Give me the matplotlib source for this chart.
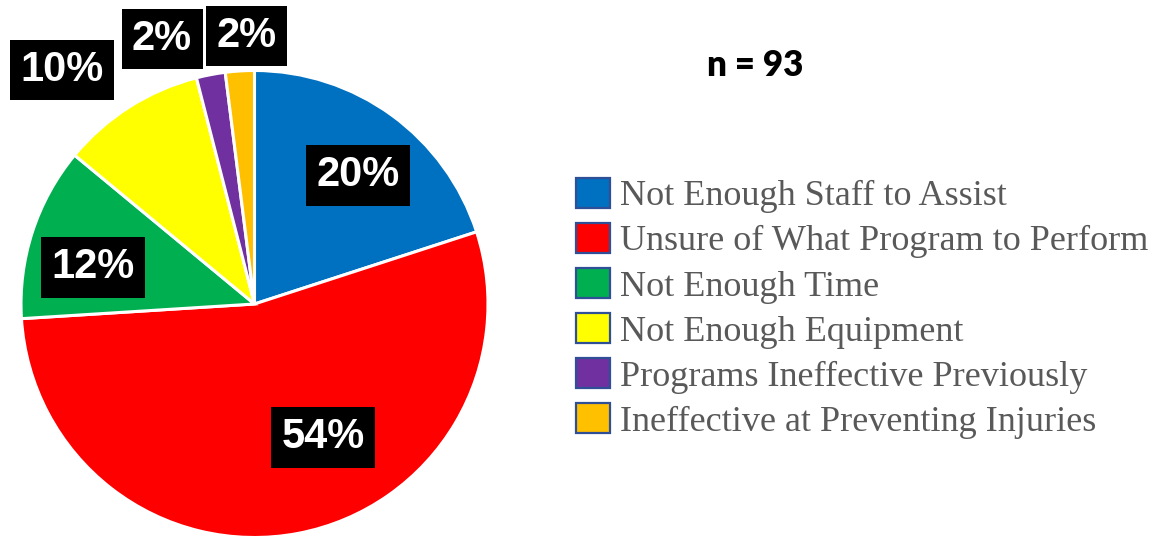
import matplotlib
matplotlib.use('Agg')
import matplotlib.pyplot as plt
from matplotlib.patches import Patch

# data
categories = [
    'Not Enough Staff to Assist',
    'Unsure of What Program to Perform',
    'Not Enough Time',
    'Not Enough Equipment',
    'Programs Ineffective Previously',
    'Ineffective at Preventing Injuries',
]
shares = [20, 54, 12, 10, 2, 2]
pct_labels = ['20%', '54%', '12%', '10%', '2%', '2%']
colors = ['#0070C0', '#FF0000', '#00B050', '#FFFF00', '#7030A0', '#FFC000']
n_text = 'n = 93'

# label positions in pie-radius units
label_pos = [
    (0.443, 0.552),
    (0.293, -0.570),
    (-0.692, 0.158),
    (-0.824, 1.002),
    (-0.396, 1.135),
    (-0.036, 1.148),
]

W, H = 1160, 539
fig = plt.figure(figsize=(W / 100, H / 100), dpi=100)

# pie axes, placed in pixels
cx, cy, r = 254.5, 304, 233.5
ax = fig.add_axes([(cx - r) / W, (H - cy - r) / H, 2 * r / W, 2 * r / H])
ax.pie(
    shares,
    colors=colors,
    startangle=90,
    counterclock=False,
    wedgeprops=dict(edgecolor='white', linewidth=2.2),
)
ax.set_xlim(-1, 1)
ax.set_ylim(-1, 1)
ax.set_aspect('equal')

for (x, y), lab in zip(label_pos, pct_labels):
    ax.text(
        x, y, lab,
        ha='center', va='center',
        color='white', fontsize=30, fontweight='bold',
        family='Liberation Sans',
        bbox=dict(boxstyle='square,pad=0.25', facecolor='black', edgecolor='none'),
        clip_on=False,
    )

# legend
handles = [Patch(facecolor=c, edgecolor='#2F4F96', linewidth=1.6) for c in colors]
fig.legend(
    handles, categories,
    loc='upper left',
    bbox_to_anchor=(576 / W, 1 - 178 / H),
    frameon=False,
    borderpad=0, borderaxespad=0,
    handlelength=0.94, handleheight=0.89,
    handletextpad=0.28, labelspacing=0.27,
    prop=dict(family='Liberation Serif', size=26),
    labelcolor='#595959',
)

fig.text(755 / W, 1 - 66 / H, n_text, ha='center', va='center',
         fontsize=25, fontweight='heavy', family='Lato')

fig.savefig('out.png', dpi=100)
